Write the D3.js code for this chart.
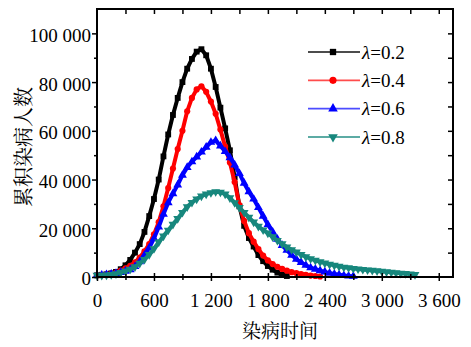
<!DOCTYPE html>
<html>
<head>
<meta charset="utf-8">
<script src="https://cdn.jsdelivr.net/npm/d3@7"></script>
<style>
  html, body { margin: 0; padding: 0; background: #fff; }
  svg { display: block; }
  .serif { font-family: "Liberation Serif", "DejaVu Serif", serif; }
</style>
</head>
<body>
<svg id="chart" width="471" height="347"></svg>
<script>
// ---------------- data (values in persons) ----------------
const times = [0,50,100,150,200,250,300,350,400,450,500,550,600,650,700,750,800,850,900,950,
  1000,1050,1100,1150,1200,1250,1300,1350,1400,1450,1500,1550,1600,1650,1700,1750,1800,1850,1900,1950,
  2000,2050,2100,2150,2200,2250,2300,2350,2400,2450,2500,2550,2600,2650,2700,2750,2800,2850,2900,2950,
  3000,3050,3100,3150,3200,3250,3300,3350];

const lambda02 = [700,900,1100,1500,2100,3200,4800,7000,10000,13500,
  18500,25000,32000,40000,49500,58500,66500,73500,80000,85500,
  89500,92500,93500,91000,85500,78000,69500,61000,52000,41000,
  29000,21000,16000,12500,9000,6500,4500,3000,1800,900,400];

const lambda04 = [700,800,1000,1300,1800,2600,3600,4600,6000,8000,
  10500,13500,17500,22500,29000,36500,44500,52500,60000,68000,
  73500,77000,78300,76000,72000,67000,60500,53500,47000,39000,
  29500,23000,18000,14500,11500,8800,6800,5300,4200,3300,
  2600,2000,1600,1200,900,600,400,200];

const lambda06 = [700,800,1000,1200,1500,1900,2400,3000,4300,6300,
  9000,12000,15800,20500,25800,30500,34200,37800,41800,45000,
  47300,49300,51300,53300,55300,56000,53800,51500,49000,46000,
  42500,38500,35000,32000,28500,25000,21500,18500,15500,13000,
  11000,9000,7300,6000,4800,3800,3200,2600,2100,1600,
  1200,900,600,400,300];

const lambda08 = [700,700,800,1000,1300,1800,2400,3200,4200,5600,
  7200,9200,11600,14300,16800,19200,21600,24000,26500,28800,
  30600,32000,33200,34000,34600,35000,34800,34000,32500,30500,
  28500,26500,24500,22500,20800,19300,18000,16500,15000,13600,
  12300,11200,10200,9200,8300,7500,6800,6200,5700,5200,
  4800,4400,4000,3800,3500,3300,3100,2900,2700,2500,
  2300,2100,1900,1700,1500,1400,1200,1000];

const seriesNames = ["0.2", "0.4", "0.6", "0.8"];
const seriesValues = [lambda02, lambda04, lambda06, lambda08];
const seriesColors = ["#000000", "#ff0000", "#0000ff", "#17877d"];
const seriesSymbols = [d3.symbolSquare, d3.symbolCircle, d3.symbolTriangle, d3.symbolTriangle];
const seriesRotate = [0, 0, 0, 180];

const xTickLabels = [0, 600, 1200, 1800, 2400, 3000, 3600];
const xMinorTicks = [300, 900, 1500, 2100, 2700, 3300];
const yTickLabels = [0, 20000, 40000, 60000, 80000, 100000];
const yMinorTicks = [10000, 30000, 50000, 70000, 90000];

const xTitle = "染病时间";
const yTitle = "累积染病人数";

// ---------------- layout ----------------
const svg = d3.select("#chart");
const L = 97, R = 453, T = 9, B = 277;
const x = d3.scaleLinear().domain([0, 3750]).range([L, R]);
const y = d3.scaleLinear().domain([0, 110000]).range([B, T]);

const loc = d3.formatLocale({decimal: ".", thousands: " ", grouping: [3], currency: ["", ""]});
const fmt = loc.format(",d");

const cjk = "Noto Serif CJK SC, Noto Sans CJK SC, Noto Sans, sans-serif";

// ---------------- series ----------------
const line = d3.line().x(d => x(d[0])).y(d => y(d[1]));
seriesValues.forEach((vals, i) => {
  const pts = vals.map((v, k) => [times[k], v]);
  const g = svg.append("g");
  g.append("path")
    .attr("d", line(pts))
    .attr("fill", "none")
    .attr("stroke", seriesColors[i])
    .attr("stroke-width", 4)
    .attr("stroke-linejoin", "round");
  const sym = d3.symbol().type(seriesSymbols[i]).size(i === 1 ? 30 : 34);
  g.selectAll("path.m").data(pts).enter().append("path")
    .attr("class", "m")
    .attr("d", sym)
    .attr("transform", d => `translate(${x(d[0])},${y(d[1])}) rotate(${seriesRotate[i]})`)
    .attr("fill", seriesColors[i]);
});

// ---------------- axes ----------------
function styleAxis(g) {
  g.attr("font-family", null).attr("font-size", null).attr("class", "serif");
  g.select(".domain").remove();
  g.selectAll("line").attr("stroke", "#000").attr("stroke-width", 1.5);
  g.selectAll("text").attr("fill", "#000").attr("font-size", 19);
}

// bottom (crossing ticks)
const gB = svg.append("g").attr("transform", `translate(0,${B})`)
  .call(d3.axisBottom(x).tickValues(xTickLabels).tickFormat(fmt).tickSize(4).tickPadding(13));
styleAxis(gB);
gB.selectAll(".tick line").attr("y1", -4);
const gBm = svg.append("g").attr("transform", `translate(0,${B})`)
  .call(d3.axisBottom(x).tickValues(xMinorTicks).tickFormat("").tickSize(3));
styleAxis(gBm);
gBm.selectAll(".tick line").attr("y1", -3);

// left (outward ticks)
const gL = svg.append("g").attr("transform", `translate(${L},0)`)
  .call(d3.axisLeft(y).tickValues(yTickLabels).tickFormat(fmt).tickSize(5).tickPadding(1));
styleAxis(gL);
gL.selectAll("text").attr("dy", "0.42em");
const gLm = svg.append("g").attr("transform", `translate(${L},0)`)
  .call(d3.axisLeft(y).tickValues(yMinorTicks).tickFormat("").tickSize(3));
styleAxis(gLm);

// top (inward)
const gT = svg.append("g").attr("transform", `translate(0,${T})`)
  .call(d3.axisTop(x).tickValues(xTickLabels.concat(xMinorTicks).filter(v => v > 0)).tickFormat("").tickSize(-5));
styleAxis(gT);

// right (inward)
const gR = svg.append("g").attr("transform", `translate(${R},0)`)
  .call(d3.axisRight(y).tickValues(yTickLabels.concat(yMinorTicks).filter(v => v > 0)).tickFormat("").tickSize(-5));
styleAxis(gR);

// frame
svg.append("rect")
  .attr("x", L).attr("y", T).attr("width", R - L).attr("height", B - T)
  .attr("fill", "none").attr("stroke", "#000").attr("stroke-width", 2);

// ---------------- titles ----------------
svg.append("text")
  .attr("x", 280).attr("y", 338)
  .attr("text-anchor", "middle")
  .attr("font-family", cjk).attr("font-size", 19)
  .text(xTitle);

svg.append("text")
  .attr("transform", "translate(31,147) rotate(-90)")
  .attr("text-anchor", "middle")
  .attr("font-family", cjk).attr("font-size", 20)
  .text(yTitle);

// ---------------- legend ----------------
const legY = d3.scalePoint().domain(seriesNames).range([52, 137]);
seriesNames.forEach((name, i) => {
  const gy = legY(name);
  const g = svg.append("g");
  g.append("line").attr("x1", 308).attr("x2", 360).attr("y1", gy).attr("y2", gy)
    .attr("stroke", seriesColors[i]).attr("stroke-width", 1.8).attr("stroke-opacity", 0.7);
  g.append("path")
    .attr("d", d3.symbol().type(seriesSymbols[i]).size(40))
    .attr("transform", `translate(333,${gy}) rotate(${seriesRotate[i]})`)
    .attr("fill", seriesColors[i]);
  const t = g.append("text").attr("class", "serif").attr("x", 362).attr("y", gy).attr("dy", "0.35em")
    .attr("font-size", 19);
  t.append("tspan").attr("font-style", "italic").text("λ");
  t.append("tspan").text("=" + name);
});
</script>
</body>
</html>
